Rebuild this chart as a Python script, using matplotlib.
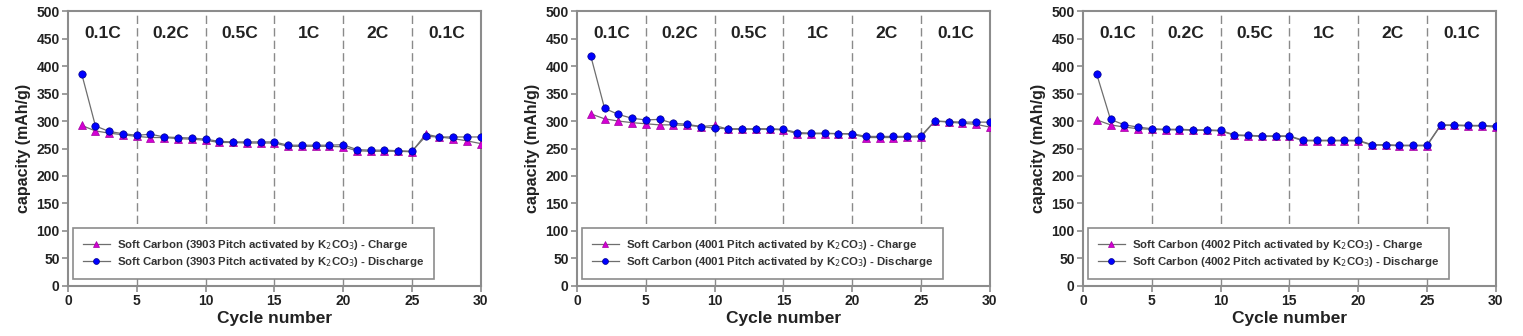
import numpy as np
import matplotlib.pyplot as plt

plt.rcParams['font.family'] = ['Liberation Sans', 'DejaVu Sans']

cycles = np.arange(1, 31)
samples = ['3903', '4001', '4002']
rate_labels = ['0.1C', '0.2C', '0.5C', '1C', '2C', '0.1C']
rate_bounds = [5, 10, 15, 20, 25]

charge = [
    [292, 282, 278, 275, 272, 270, 270, 268, 267, 265,
     261, 261, 260, 260, 260, 254, 254, 254, 254, 253,
     246, 245, 245, 245, 244, 276, 271, 268, 264, 259],
    [313, 304, 300, 297, 295, 293, 293, 292, 290, 292,
     285, 285, 285, 285, 284, 277, 277, 277, 277, 276,
     270, 270, 270, 271, 271, 300, 298, 296, 294, 289],
    [302, 293, 289, 286, 285, 284, 284, 283, 283, 282,
     274, 273, 272, 272, 272, 264, 264, 264, 264, 264,
     256, 256, 255, 255, 255, 292, 292, 291, 291, 289],
]
discharge = [
    [386, 291, 281, 277, 274, 276, 271, 270, 269, 267,
     263, 262, 262, 262, 262, 256, 256, 256, 256, 257,
     248, 247, 247, 246, 245, 272, 271, 271, 271, 271],
    [418, 323, 312, 305, 302, 303, 296, 294, 290, 287,
     286, 286, 286, 286, 285, 279, 278, 278, 277, 277,
     272, 272, 272, 272, 273, 300, 299, 298, 298, 298],
    [385, 303, 293, 289, 286, 285, 285, 284, 284, 283,
     275, 274, 273, 273, 273, 265, 265, 265, 265, 265,
     257, 257, 256, 256, 256, 293, 293, 292, 292, 291],
]

fig = plt.figure(figsize=(15.23, 3.36), dpi=100)
lefts = [0.0446, 0.3789, 0.7111]
txt = '#222222'
edge = '#8c8c8c'

for k in range(3):
    ax = fig.add_axes([lefts[k], 0.149, 0.271, 0.818])
    for b in rate_bounds:
        ax.axvline(b, color='#8a8a8a', lw=1.0, ls=(0, (6, 3)), zorder=1)
    ax.plot(cycles, charge[k], color='#6e6e6e', lw=0.9, marker='^', ms=5.8,
            mfc='#d400d4', mec='#a000a0', mew=0.5, zorder=3,
            label='Soft Carbon (%s Pitch activated by K$_2$CO$_3$) - Charge' % samples[k])
    ax.plot(cycles, discharge[k], color='#6e6e6e', lw=0.9, marker='o', ms=5.3,
            mfc='#0000ff', mec='#00008b', mew=0.5, zorder=4,
            label='Soft Carbon (%s Pitch activated by K$_2$CO$_3$) - Discharge' % samples[k])
    for i, lab in enumerate(rate_labels):
        ax.text(2.5 + 5 * i, 460, lab, ha='center', va='center',
                fontsize=12.5, fontweight='bold', color=txt)
    ax.set_xlim(0, 30)
    ax.set_ylim(0, 500)
    ax.set_xticks(range(0, 31, 5))
    ax.set_yticks(range(0, 501, 50))
    for s in ax.spines.values():
        s.set_color(edge)
        s.set_linewidth(1.5)
    ax.tick_params(direction='out', length=4, width=1.2, color=edge,
                   labelsize=10, labelcolor=txt, pad=2)
    for t in ax.get_xticklabels() + ax.get_yticklabels():
        t.set_fontweight('bold')
    ax.set_xlabel('Cycle number', fontsize=12.5, fontweight='bold', color=txt, labelpad=2)
    ax.set_ylabel('capacity (mAh/g)', fontsize=11.5, fontweight='bold', color=txt, labelpad=4)
    leg = ax.legend(loc='lower left', bbox_to_anchor=(0.012, 0.025), fontsize=8.2,
                    frameon=True, fancybox=False, edgecolor=edge, framealpha=1,
                    handlelength=2.4, borderpad=0.85, labelspacing=0.3, handletextpad=0.6,
                    markerscale=0.8, borderaxespad=0)
    leg.get_frame().set_linewidth(1.2)
    for t in leg.get_texts():
        t.set_color('#333333')
        t.set_fontweight('bold')

fig.savefig('out.png', dpi=100)
